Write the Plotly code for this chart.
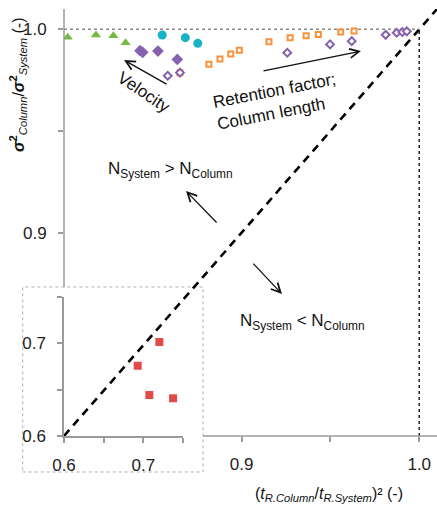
import plotly.graph_objects as go

# ---------------- data ----------------
vel_tri_x = [0.8021, 0.8180, 0.8278, 0.8347]
vel_tri_y = [0.9961, 0.9972, 0.9969, 0.9934]

vel_circ_x = [0.8553, 0.8683, 0.8753]
vel_circ_y = [0.9972, 0.9959, 0.9931]

vel_dia_x = [0.8428, 0.8443, 0.8529, 0.8638]
vel_dia_y = [0.9895, 0.9887, 0.9893, 0.9852]

ret_sq_x = [0.8653, 0.8816, 0.8878, 0.8939, 0.8987, 0.9154, 0.9273, 0.9363, 0.9432, 0.9558, 0.9633]
ret_sq_y = [0.9787, 0.9828, 0.9854, 0.9879, 0.9897, 0.9939, 0.9959, 0.9969, 0.9975, 0.9987, 0.9992]

len_dia_x = [0.8584, 0.8653, 0.9257, 0.9498, 0.9620, 0.9811, 0.9873, 0.9905, 0.9930]
len_dia_y = [0.9772, 0.9787, 0.9885, 0.9926, 0.9942, 0.9973, 0.9983, 0.9987, 0.9990]

inset_x = [0.6929, 0.7202, 0.7076, 0.7375]
inset_y = [0.6758, 0.7014, 0.6442, 0.6407]

main_ticks = [0.9, 1.0]
main_ticktext = ["0.9", "1.0"]
main_minor = [0.95]
inset_ticks = [0.6, 0.7]
inset_ticktext = ["0.6", "0.7"]
inset_minor = [0.65, 0.75]

MAIN_RANGE = [0.8, 1.01]
INSET_RANGE = [0.6, 0.75]

# inset box in paper coordinates (plot area)
INSET_DOM_X = [0.0, 0.319]
INSET_DOM_Y = [0.0, 0.3255]
BOX_X = [-0.1107, 0.3727]
BOX_Y = [-0.0843, 0.349]

FONT = "Liberation Sans, Arial, sans-serif"
AXC = "#9a9a9a"

fig = go.Figure()

def sc(x, y, symbol, color, size, fill=None, lw=0, xa="x", ya="y"):
    fig.add_trace(go.Scatter(
        x=x, y=y, mode="markers", xaxis=xa, yaxis=ya, showlegend=False,
        marker=dict(symbol=symbol, size=size, color=fill if fill else color,
                    line=dict(color=color, width=lw))))

# main diagonal y = x
d0 = MAIN_RANGE[0]
fig.add_trace(go.Scatter(x=[d0, MAIN_RANGE[1]], y=[d0, MAIN_RANGE[1]], mode="lines",
                         showlegend=False, hoverinfo="skip",
                         line=dict(color="black", width=2.6, dash="8px,6px")))

# reference lines at 1.0
fig.add_trace(go.Scatter(x=[MAIN_RANGE[0], 1.0], y=[1.0, 1.0], mode="lines", showlegend=False,
                         line=dict(color="#8a8a8a", width=1.5, dash="dot")))
fig.add_trace(go.Scatter(x=[1.0, 1.0], y=[MAIN_RANGE[0], 1.0], mode="lines", showlegend=False,
                         line=dict(color="#222222", width=1.5, dash="dot")))

sc(vel_tri_x, vel_tri_y, "triangle-up", "#77B843", 9)
sc(vel_circ_x, vel_circ_y, "circle", "#17B2C6", 9)
sc(ret_sq_x, ret_sq_y, "square", "#F7923A", 5, fill="white", lw=2)
sc(vel_dia_x, vel_dia_y, "diamond", "#8662AE", 9)
sc(len_dia_x, len_dia_y, "diamond", "#8662AE", 6, fill="white", lw=2)

# inset
sc(inset_x, inset_y, "square", "#E24A4A", 8, xa="x2", ya="y2")

axis_common = dict(showgrid=False, zeroline=False, ticks="outside", ticklen=5,
                   tickcolor=AXC, tickwidth=1.5, ticklabelstandoff=8,
                   tickfont=dict(family=FONT, size=17, color="#222"))
minor_common = dict(ticks="outside", ticklen=5, tickcolor=AXC, tickwidth=1.5, showgrid=False)

fig.update_layout(
    width=437, height=507,
    margin=dict(l=64, r=0, t=9, b=71),
    paper_bgcolor="white", plot_bgcolor="rgba(0,0,0,0)",
    xaxis=dict(range=MAIN_RANGE, tickvals=main_ticks, ticktext=main_ticktext,
               minor=dict(tickvals=main_minor, **minor_common),
               showline=False, **axis_common),
    yaxis=dict(range=MAIN_RANGE, tickvals=main_ticks, ticktext=main_ticktext,
               minor=dict(tickvals=main_minor, **minor_common),
               showline=False, **axis_common),
    xaxis2=dict(domain=INSET_DOM_X, range=INSET_RANGE, anchor="y2",
                tickvals=inset_ticks, ticktext=inset_ticktext,
                minor=dict(tickvals=inset_minor, **minor_common),
                showline=True, linecolor=AXC, linewidth=1.5, **axis_common),
    yaxis2=dict(domain=INSET_DOM_Y, range=INSET_RANGE, anchor="x2",
                tickvals=inset_ticks, ticktext=inset_ticktext,
                minor=dict(tickvals=inset_minor, **minor_common),
                showline=True, linecolor=AXC, linewidth=1.5, **axis_common),
)

shapes = [
    dict(type="rect", xref="paper", yref="paper", x0=BOX_X[0], x1=BOX_X[1],
         y0=BOX_Y[0], y1=BOX_Y[1], line=dict(color="#b0b0b0", width=1, dash="dot"),
         fillcolor="rgba(0,0,0,0)", layer="below"),
    dict(type="line", xref="paper", yref="paper", x0=0, x1=0, y0=BOX_Y[1], y1=1,
         line=dict(color=AXC, width=1.5)),
    dict(type="line", xref="paper", yref="paper", x0=BOX_X[1], x1=1, y0=0, y1=0,
         line=dict(color=AXC, width=1.5)),
]
fig.update_layout(shapes=shapes)

ann = []
def arrow(x, y, ax, ay):
    ann.append(dict(x=x, y=y, xref="x", yref="y", ax=ax, ay=ay, text="",
                    showarrow=True, arrowhead=5, arrowsize=1.4, arrowwidth=1.3,
                    arrowcolor="#111"))

arrow(0.8338, 0.9849, 44, 25)
arrow(0.9672, 0.9893, -99, 20)
arrow(0.8687, 0.9205, 32, 33)
arrow(0.9227, 0.8698, -30, -32)

tf = dict(family=FONT, size=17, color="#111")
ctr = dict(xanchor="center", yanchor="middle", showarrow=False)
ann.append(dict(x=0.8450, y=0.9687, xref="x", yref="y", text="Velocity",
                textangle=34, font=tf, **ctr))
ann.append(dict(x=0.9199, y=0.9647, xref="x", yref="y",
                text="Retention factor;<br>Column length",
                textangle=-11, font=tf, align="left", **ctr))
ann.append(dict(x=0.8597, y=0.9308, xref="x", yref="y",
                text="N<sub>System</sub> > N<sub>Column</sub>", font=tf, **ctr))
ann.append(dict(x=0.9340, y=0.8561, xref="x", yref="y",
                text="N<sub>System</sub> < N<sub>Column</sub>", font=tf, **ctr))

ann.append(dict(x=0.7105, y=-0.138, xref="paper", yref="paper",
                text="(<i>t</i><sub><i>R.Column</i></sub>/<i>t</i><sub><i>R.System</i></sub>)² (-)",
                font=dict(family=FONT, size=16, color="#111"), **ctr))
ann.append(dict(x=-0.1233, y=0.822, xref="paper", yref="paper", textangle=-90,
                text="<b><i>σ</i><sup>2</sup></b><sub><i>Column</i></sub>/<b><i>σ</i><sup>2</sup></b><sub><i>System</i></sub> (-)",
                font=dict(family=FONT, size=16, color="#111"), **ctr))
fig.update_layout(annotations=ann)

fig.write_html("out.html")
